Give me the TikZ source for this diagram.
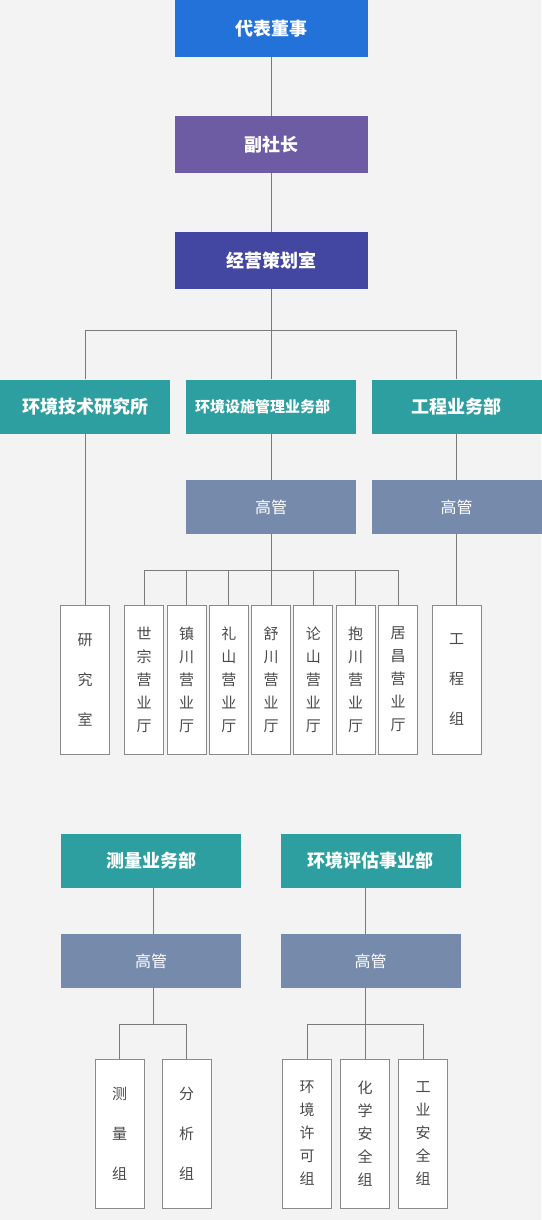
\documentclass[tikz,border=0pt]{standalone}
\usepackage{fontspec}
\setmainfont{Noto Sans CJK SC}
\usetikzlibrary{positioning,calc}
\definecolor{pagebg}{HTML}{F3F3F3}
\definecolor{ceoblue}{HTML}{2272D9}
\definecolor{vppurple}{HTML}{6D5BA4}
\definecolor{planindigo}{HTML}{4447A1}
\definecolor{deptteal}{HTML}{2E9FA0}
\definecolor{mgrgray}{HTML}{768AAC}
\definecolor{linegray}{HTML}{7A7A7A}
\definecolor{boxgray}{HTML}{8A8A8A}
\definecolor{txtgray}{HTML}{4A4A4A}

\begin{document}
\begin{tikzpicture}[x=1pt,y=-1pt,
   head/.style={rectangle,inner sep=0pt,text=white,minimum width=193pt,
     minimum height=57pt,font=\bfseries\fontsize{18}{18}\selectfont},
   dept/.style={head,fill=deptteal,minimum width=170pt,minimum height=54pt},
   mgr/.style={dept,fill=mgrgray,font=\fontsize{16}{16}\selectfont},
   unit/.style={rectangle,draw=boxgray,line width=1pt,fill=white,inner sep=0pt,
     text=txtgray,minimum width=39pt,minimum height=149pt,align=center,
     font=\fontsize{15}{23}\selectfont},
   team/.style={unit,minimum width=49pt,font=\fontsize{15}{40}\selectfont},
   link/.style={draw=linegray,line width=1pt}]
  \fill[pagebg] (0,0) rectangle (541,1220);

  % top line
  \node[head,fill=ceoblue]    (ceo)  at (271.5,28.5)  {代表董事};
  \node[head,fill=vppurple]   (vp)   at (271.5,144.5) {副社长};
  \node[head,fill=planindigo] (plan) at (271.5,260.5) {经营策划室};

  % departments
  \node[dept] (tech) at (85,406.5)  {环境技术研究所};
  \node[dept,font=\bfseries\fontsize{15}{15}\selectfont]
              (fac)  at (271,406.5) {环境设施管理业务部\kern17pt};
  \node[dept] (eng)  at (456.5,406.5) {工程业务部};
  \node[mgr]  (mgrF) at (271,507)   {高管};
  \node[mgr]  (mgrE) at (456.5,507) {高管};

  \node[team] (lab) at (85,679.5) {研\\究\\室};
  \foreach \a/\b [count=\i] in {世/宗,镇/川,礼/山,舒/川,论/山,抱/川,居/昌}
    \node[unit] (of\i) at ({144.2+(\i-1)*42.3},679.5) {\a\\\b\\营\\业\\厅};
  \node[team] (engteam) at (456.5,679.5) {工\\程\\组};

  % lower groups
  \node[dept,minimum width=180pt] (survey) at (151,860.5) {测量业务部};
  \node[dept,minimum width=180pt] (env)    at (370.5,860.5) {环境评估事业部};
  \node[mgr,minimum width=180pt]  (mgrS)   at (151,961)   {高管};
  \node[mgr,minimum width=180pt]  (mgrV)   at (370.5,961) {高管};

  \node[team] (sv1)  at (119.7,1133.5) {测\\量\\组};
  \node[team] (sv2)  at (186.7,1133.5) {分\\析\\组};
  \node[team,font=\fontsize{15}{23}\selectfont] (permit) at (307,1133.5)   {环\\境\\许\\可\\组};
  \node[team,font=\fontsize{15}{23}\selectfont] (chem)   at (365,1133.5)   {化\\学\\安\\全\\组};
  \node[team,font=\fontsize{15}{23}\selectfont] (indus)  at (423,1133.5)   {工\\业\\安\\全\\组};

  \coordinate (bus1) at (0,330);
  \coordinate (bus2) at (0,570.3);
  \coordinate (bus3) at (0,1024);
  \coordinate (mid)  at ($(sv1.north)!.5!(sv2.north)$);

  \path[link]
   (ceo) -- (vp)
   (vp) -- (plan)
   (plan.south) -- (plan.south |- bus1)
   (tech.north) |- (eng.north |- bus1) -- (eng.north)
   (fac.north |- bus1) -- (fac.north)
   (tech) -- (lab)
   (fac) -- (mgrF)
   (eng) -- (mgrE)
   (mgrE) -- (engteam)
   (mgrF.south) -- (mgrF.south |- bus2)
   (of1.north) |- (of7.north |- bus2) -- (of7.north);
  \foreach \i in {2,...,6}
    \draw[link] (of\i.north) -- (of\i.north |- bus2);

  \path[link]
   (survey.south -| mid) -- (mgrS.north -| mid)
   (mgrS.south -| mid) -- (mid |- bus3)
   (sv1.north) |- (sv2.north |- bus3) -- (sv2.north)
   (env.south -| chem.north) -- (mgrV.north -| chem.north)
   (mgrV.south -| chem.north) -- (chem.north)
   (permit.north) |- (indus.north |- bus3) -- (indus.north);
\end{tikzpicture}
\end{document}
